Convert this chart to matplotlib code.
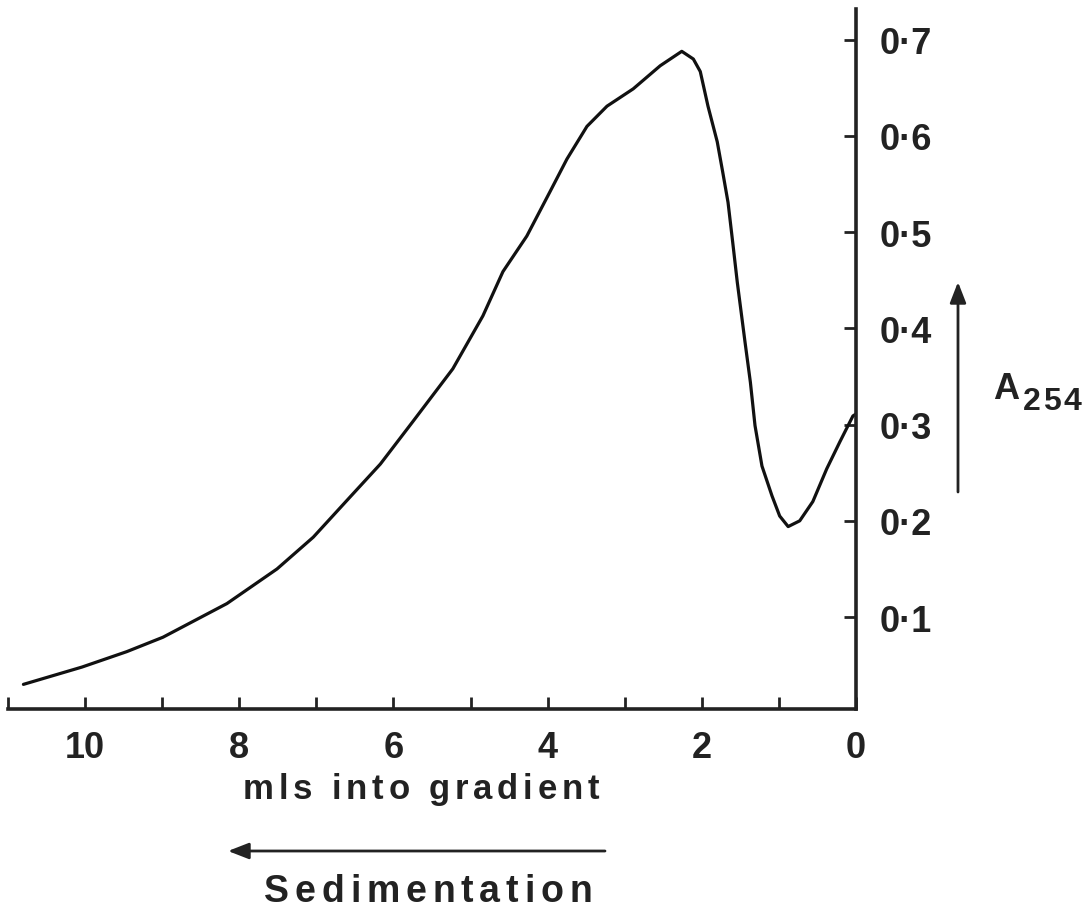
import matplotlib
matplotlib.use("Agg")
import matplotlib.pyplot as plt
from matplotlib.font_manager import FontProperties

# trace (mls into gradient, A254)
mls = [10.80, 10.04, 9.46, 8.99, 8.16, 7.51, 7.04, 6.56, 6.17, 5.75, 5.23,
       4.84, 4.58, 4.27, 3.97, 3.75, 3.49, 3.23, 2.89, 2.54, 2.26, 2.11,
       2.02, 1.92, 1.80, 1.73, 1.66, 1.60, 1.54, 1.44, 1.37, 1.31, 1.22,
       1.09, 0.99, 0.88, 0.73, 0.56, 0.38, 0.21, 0.04, 0.0]
a254 = [0.030, 0.048, 0.064, 0.079, 0.114, 0.150, 0.183, 0.225, 0.259, 0.303,
        0.358, 0.413, 0.459, 0.496, 0.542, 0.576, 0.610, 0.631, 0.649, 0.673,
        0.688, 0.680, 0.667, 0.631, 0.594, 0.563, 0.531, 0.490, 0.448, 0.386,
        0.344, 0.299, 0.257, 0.226, 0.205, 0.194, 0.200, 0.220, 0.254, 0.282,
        0.309, 0.311]

xticks = list(range(0, 12))
xticklabels = ["0", "", "2", "", "4", "", "6", "", "8", "", "10", ""]
yticks = [0.1, 0.2, 0.3, 0.4, 0.5, 0.6, 0.7]
yticklabels = ["0\u00b71", "0\u00b72", "0\u00b73", "0\u00b74", "0\u00b75", "0\u00b76", "0\u00b77"]

W, H = 1091, 920
ink = "#222222"
narrow = ["Liberation Sans Narrow", "Liberation Sans", "DejaVu Sans"]
wide = ["Liberation Sans", "DejaVu Sans"]

fig = plt.figure(figsize=(W / 100, H / 100), dpi=100)
ax = fig.add_axes([8 / W, 1 - 710 / H, 848 / W, 700 / H])

ax.plot(mls, a254, color="#111111", lw=2.3, solid_joinstyle="round",
        solid_capstyle="round")

ax.set_xlim(11, 0)
ax.set_ylim(0.0044, 0.732)

for s in ["top", "left"]:
    ax.spines[s].set_visible(False)
for s in ["bottom", "right"]:
    ax.spines[s].set_linewidth(2.6)
    ax.spines[s].set_color(ink)

ax.yaxis.tick_right()
ax.set_xticks(xticks)
ax.set_xticklabels(xticklabels, fontfamily=narrow, fontweight="bold", fontsize=26, color=ink)
ax.set_yticks(yticks)
ax.set_yticklabels(yticklabels, fontfamily=narrow, fontweight="bold", fontsize=26, color=ink)
ax.tick_params(axis="x", direction="in", length=9, width=2, color=ink, pad=15)
ax.tick_params(axis="y", direction="in", length=9, width=2, color=ink, pad=17)


def spaced(x_px, y_px, text, gap_px, size):
    # letter-spaced text centred at x_px, baseline at y_px (pixels from top)
    fp = FontProperties(family=wide, weight="bold", size=size)
    r = fig.canvas.get_renderer()
    widths = []
    for ch in text:
        if ch == " ":
            w, _, _ = r.get_text_width_height_descent("a a", fp, ismath=False)
            w2, _, _ = r.get_text_width_height_descent("aa", fp, ismath=False)
            widths.append(w - w2)
        else:
            w, _, _ = r.get_text_width_height_descent(ch, fp, ismath=False)
            widths.append(w)
    total = sum(widths) + gap_px * (len(text) - 1)
    x = x_px - total / 2
    for ch, w in zip(text, widths):
        if ch != " ":
            fig.text(x / W, 1 - y_px / H, ch, fontproperties=fp, color=ink,
                     ha="left", va="baseline")
        x += w + gap_px


spaced(421, 799, "mls into gradient", 4.8, 25)
spaced(428, 902, "Sedimentation", 5.8, 27)

# sedimentation arrow
fig.add_artist(matplotlib.patches.FancyArrowPatch(
    (605 / W, 1 - 852 / H), (228 / W, 1 - 852 / H), transform=fig.transFigure,
    arrowstyle="-|>,head_length=0.9,head_width=0.35", lw=2, color=ink,
    mutation_scale=14, shrinkA=0, shrinkB=0))

# A254 arrow and label
fig.add_artist(matplotlib.patches.FancyArrowPatch(
    (958 / W, 1 - 493 / H), (958 / W, 1 - 283 / H), transform=fig.transFigure,
    arrowstyle="-|>,head_length=0.9,head_width=0.35", lw=2, color=ink,
    mutation_scale=14, shrinkA=0, shrinkB=0))
fig.text(993 / W, 1 - 399 / H, "A", fontfamily=wide, fontweight="bold",
         fontsize=26, color=ink, ha="left", va="baseline")
spaced(1052, 410, "254", 2.5, 23)

fig.savefig("out.png", dpi=100, facecolor="white")
